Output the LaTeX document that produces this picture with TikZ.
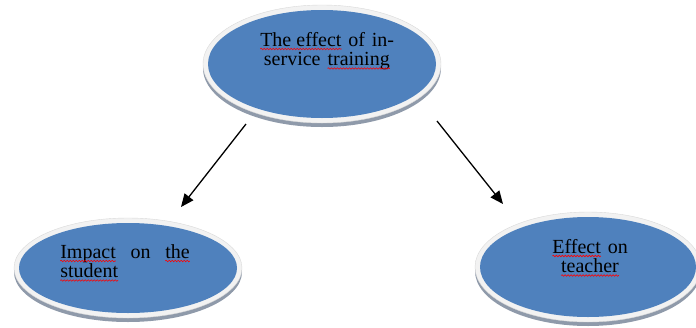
\documentclass[tikz,border=0pt]{standalone}
\usepackage{fontspec}
\setmainfont{Liberation Serif}
\usetikzlibrary{arrows.meta,decorations.pathmorphing,shapes.geometric}
\definecolor{ovalblue}{HTML}{4F81BD}
\definecolor{rimwhite}{HTML}{F2F2F2}
\definecolor{rimedge}{HTML}{D9D9D9}
\definecolor{shadowgrey}{HTML}{8F9AAA}
\newcommand\sqw[1]{\tikz[baseline=(w.base)]{%
  \node[shape=rectangle, anchor=base, inner sep=0pt, outer sep=0pt, text width=, align=left, draw=none, fill=none, minimum width=0pt, minimum height=0pt] (w) at (0,0) {#1};%
  \draw[red, line width=0.6pt, decorate, decoration={snake, amplitude=0.8pt, segment length=3pt}] ([yshift=-3pt]w.base west) -- ([yshift=-3pt]w.base east);}}
\tikzset{
  shadowoval/.style={fill=shadowgrey},
  rimoval/.style={fill=rimwhite, draw=rimedge, line width=0.4pt},
  blueoval/.style={fill=ovalblue},
  label text/.style={inner sep=0pt, anchor=base, font=\fontsize{20}{19.5}\selectfont, text=black},
  conn/.style={line width=1.3pt, -{Triangle[length=13pt,width=11pt]}}
}
\begin{document}
\begin{tikzpicture}[x=1pt,y=-1pt]
\useasboundingbox (0,0) rectangle (696,327);
\clip (0,0) rectangle (696,327);
% top oval
\fill[shadowoval] (322,68) ellipse [x radius=119, y radius=59];
\filldraw[rimoval] (322,64) ellipse [x radius=119, y radius=59];
\node[blueoval, ellipse, minimum width=228pt, minimum height=108pt, inner sep=0pt] (top) at (322,64) {};
% left oval
\fill[shadowoval] (128,272) ellipse [x radius=114, y radius=50];
\filldraw[rimoval] (128,268) ellipse [x radius=114, y radius=50];
\node[blueoval, ellipse, minimum width=218pt, minimum height=90pt, inner sep=0pt] (left) at (128,268) {};
% right oval
\fill[shadowoval] (588,271) ellipse [x radius=113, y radius=55];
\filldraw[rimoval] (588,267) ellipse [x radius=113, y radius=55];
\node[blueoval, ellipse, minimum width=216pt, minimum height=100pt, inner sep=0pt] (right) at (588,267) {};
% texts
\node[label text, text width=136pt, align=center] (toptext) at (327,46)
  {\sqw{The effect} of in-\\service \sqw{training}};
\node[label text, text width=130pt, align=justify] (lefttext) at (125,258)
  {\hyphenpenalty=10000 \sqw{Impact} on \sqw{the} \sqw{student}};
\node[label text, text width=120pt, align=center] (righttext) at (590,253)
  {\sqw{Effect} on\\\sqw{teacher}};
% arrows
\coordinate (a1s) at (246,124);
\coordinate (a1e) at (181,207);
\coordinate (a2s) at (437,121);
\coordinate (a2e) at (503,204);
\draw[conn] (a1s) -- (a1e);
\draw[conn] (a2s) -- (a2e);
\end{tikzpicture}
\end{document}
